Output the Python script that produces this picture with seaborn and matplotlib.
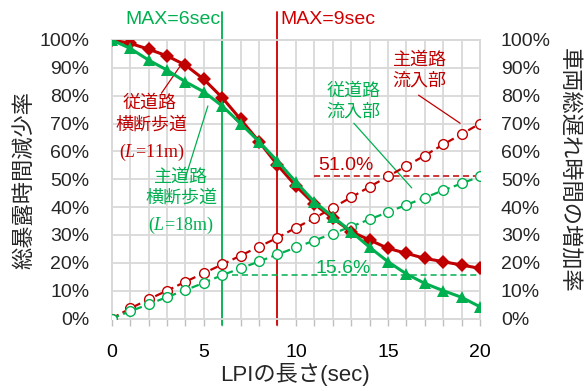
import numpy as np
import pandas as pd
import matplotlib
matplotlib.use("Agg")
import matplotlib.pyplot as plt
import seaborn as sns

# ---------------- data ----------------
lpi = list(range(0, 21))
# 総暴露時間減少率 (left axis)
jyu_oudan = [100, 98.8, 96.7, 94.3, 91.0, 85.9, 79.3, 71.5, 63.5, 55.1, 47.6,
             41.1, 36.0, 31.2, 28.2, 25.2, 23.4, 21.6, 20.4, 19.2, 18.0]
shu_oudan = [100, 97.0, 92.8, 89.2, 85.0, 81.4, 76.3, 70.0, 63.5, 56.5, 49.0,
             41.9, 36.6, 31.2, 25.6, 20.4, 16.0, 12.6, 10.0, 7.6, 4.2]
# 車両総遅れ時間の増加率 (right axis)
shu_ryunyu = [0, 3.6, 6.9, 10.0, 13.2, 16.3, 19.4, 22.6, 25.8, 29.0, 32.6,
              36.0, 39.8, 43.5, 47.3, 51.0, 54.8, 58.5, 62.5, 66.2, 70.0]
jyu_ryunyu = [0, 2.6, 5.1, 7.7, 10.2, 12.8, 15.6, 18.0, 20.5, 23.0, 25.5,
              28.0, 30.5, 33.0, 35.6, 38.2, 40.8, 43.4, 46.0, 48.5, 51.0]

x_major = [0, 5, 10, 15, 20]
x_labels = ["0", "5", "10", "15", "20"]
y_ticks = list(range(0, 101, 10))
y_labels = [f"{v}%" for v in y_ticks]

max_green = 6
max_red = 9
ref_red = 51.0
ref_green = 15.6

RED = "#c00000"
GREEN = "#00b050"
GRID = "#d9d9d9"

sns.set_theme(style="white")
plt.rcParams["font.family"] = ["Liberation Sans", "Noto Sans CJK JP", "DejaVu Sans"]
plt.rcParams["mathtext.fontset"] = "custom"
plt.rcParams["mathtext.it"] = "Liberation Serif:italic"
plt.rcParams["mathtext.rm"] = "Liberation Serif"

fig = plt.figure(figsize=(5.85, 3.91), dpi=100)
ax = fig.add_axes([0.191, 0.1854, 0.6296, 0.7123])
ax2 = ax.twinx()

df = pd.DataFrame({"lpi": lpi, "jo": jyu_oudan, "so": shu_oudan,
                   "sr": shu_ryunyu, "jr": jyu_ryunyu})

# dashed circle series (right axis)
sns.lineplot(data=df, x="lpi", y="sr", ax=ax2, color=RED, lw=1.6,
             linestyle=(0, (3.5, 2)), marker="o", markersize=7,
             markerfacecolor="white", markeredgecolor=RED, markeredgewidth=1.0,
             zorder=3)
sns.lineplot(data=df, x="lpi", y="jr", ax=ax2, color=GREEN, lw=1.6,
             linestyle=(0, (3.5, 2)), marker="o", markersize=7,
             markerfacecolor="white", markeredgecolor=GREEN, markeredgewidth=1.0,
             zorder=3)
# solid series (left axis values, same scale)
sns.lineplot(data=df, x="lpi", y="jo", ax=ax2, color=RED, lw=2.2, marker="D",
             markersize=7.2, markeredgewidth=0, zorder=4)
sns.lineplot(data=df, x="lpi", y="so", ax=ax2, color=GREEN, lw=2.2, marker="^",
             markersize=8.5, markeredgewidth=0, zorder=5)

for a in (ax, ax2):
    a.set_xlim(0, 20)
    a.set_ylim(0, 100)
    a.set_xlabel("")
    a.set_ylabel("")
    for s in a.spines.values():
        s.set_color(GRID)
        s.set_linewidth(1.3)

# ticks and grid
ax.set_xticks(lpi, minor=True)
ax.set_xticks(x_major)
ax.set_xticklabels(x_labels, fontsize=14)
ax.set_yticks(y_ticks)
ax.set_yticklabels(y_labels, fontsize=14)
ax.grid(True, which="both", axis="x", color=GRID, lw=1.3)
ax.grid(True, which="major", axis="y", color=GRID, lw=1.3)
ax.set_axisbelow(True)
ax.tick_params(axis="x", which="both", direction="out", length=4.7, width=1,
               color="#bfbfbf", pad=13.5, labelsize=14, labelcolor="black",
               bottom=True)
ax.tick_params(axis="y", length=0, pad=16, labelsize=14)

ax2.set_yticks(y_ticks)
ax2.set_yticklabels(y_labels, fontsize=14)
ax2.tick_params(axis="y", length=0, pad=15, labelsize=14)
ax2.grid(False)

# MAX vertical lines
ax2.axvline(max_green, ymin=-0.023, ymax=1.10, color=GREEN, lw=1.3, clip_on=False, zorder=2)
ax2.axvline(max_red, ymin=-0.023, ymax=1.10, color="#d00000", lw=1.3, clip_on=False, zorder=2)
ax2.text(max_green - 0.08, 107.5, "MAX=6sec", color=GREEN, fontsize=14,
         ha="right", va="center", clip_on=False)
ax2.text(max_red + 0.15, 107.5, "MAX=9sec", color="#d00000", fontsize=14,
         ha="left", va="center", clip_on=False)

# reference dashed lines
ax2.plot([11, 20], [ref_red, ref_red], color=RED, lw=1.1, linestyle=(0, (4, 2.5)), zorder=2)
ax2.plot([6, 20], [ref_green, ref_green], color=GREEN, lw=1.1, linestyle=(0, (4, 2.5)), zorder=2)
ax2.text(12.72, 55.1, "51.0%", color=RED, fontsize=14, ha="center", va="center")
ax2.text(12.58, 18.0, "15.6%", color=GREEN, fontsize=14, ha="center", va="center")

# series labels
jp = dict(fontsize=13, ha="center", va="center")
ax2.text(2.08, 77.2, "従道路", color=RED, **jp)
ax2.text(2.16, 69.3, "横断歩道", color=RED, **jp)
ax2.text(2.18, 59.6, r"($L$=11m)", color=RED, fontsize=13, ha="center", va="center",
         family="Liberation Serif")
ax2.plot([2.70, 3.69], [80.9, 90.4], color=RED, lw=0.9)

ax2.text(3.77, 50.6, "主道路", color=GREEN, **jp)
ax2.text(3.77, 43.1, "横断歩道", color=GREEN, **jp)
ax2.text(3.75, 33.4, r"($L$=18m)", color=GREEN, fontsize=13, ha="center", va="center",
         family="Liberation Serif")
ax2.plot([3.96, 5.22], [49.7, 76.3], color=GREEN, lw=0.9)

ax2.text(16.72, 92.8, "主道路", color=RED, **jp)
ax2.text(16.72, 85.3, "流入部", color=RED, **jp)
ax2.plot([16.66, 18.92], [80.2, 70.1], color=RED, lw=0.9)

ax2.text(13.12, 81.5, "従道路", color=GREEN, **jp)
ax2.text(13.12, 74.0, "流入部", color=GREEN, **jp)
ax2.plot([13.15, 16.29], [70.1, 46.9], color=GREEN, lw=0.9)

# axis labels
ax.set_xlabel("LPIの長さ(sec)", fontsize=16)
ax.xaxis.set_label_coords(0.497, -0.2)
ax.xaxis.label.set_va("center")
ax.set_ylabel("総暴露時間減少率", fontsize=16)
ax.yaxis.set_label_coords(-0.235, 0.497)
ax.yaxis.label.set_va("center")
ax2.set_ylabel("車両総遅れ時間の増加率", fontsize=16, rotation=-90)
ax2.yaxis.set_label_coords(1.2376, 0.531)
ax2.yaxis.label.set_va("center")

fig.savefig("out.png", dpi=100)
